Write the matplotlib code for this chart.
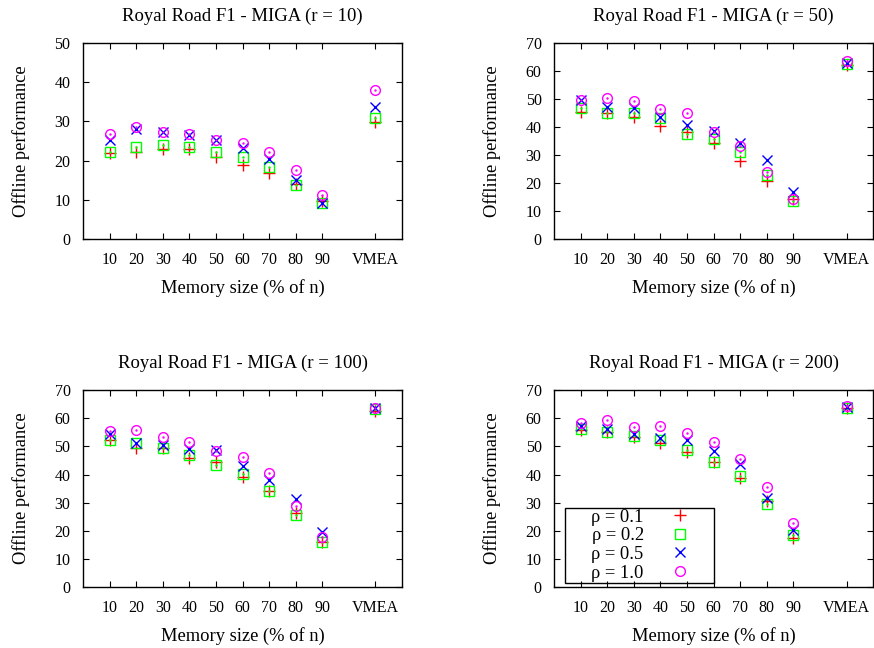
import numpy as np
import matplotlib
matplotlib.use("Agg")
import matplotlib.pyplot as plt
from matplotlib.patches import Rectangle

plt.rcParams['font.family'] = ['Liberation Serif', 'DejaVu Serif']

# Kategorien der x-Achse
kategorien = ["10", "20", "30", "40", "50", "60", "70", "80", "90", "VMEA"]
positionen = [1, 2, 3, 4, 5, 6, 7, 8, 9, 11]

rho_labels = ["ρ = 0.1", "ρ = 0.2", "ρ = 0.5", "ρ = 1.0"]

# r = 10
r10_rho01 = [22.0, 22.3, 22.9, 22.9, 21.0, 18.9, 16.9, 14.1, 9.8, 29.7]
r10_rho02 = [22.2, 23.5, 24.0, 23.5, 22.2, 20.9, 18.4, 13.8, 9.2, 30.8]
r10_rho05 = [25.3, 28.0, 27.4, 26.4, 25.3, 23.1, 20.5, 15.1, 9.3, 33.7]
r10_rho10 = [26.8, 28.5, 27.2, 26.7, 25.3, 24.4, 22.3, 17.5, 11.3, 38.0]

# r = 50
r50_rho01 = [45.2, 44.8, 43.6, 40.2, 38.3, 34.3, 28.0, 20.6, 14.3, 62.0]
r50_rho02 = [46.8, 45.0, 44.8, 43.2, 37.6, 35.8, 31.2, 23.0, 13.5, 62.6]
r50_rho05 = [49.5, 47.1, 46.8, 43.6, 40.6, 38.5, 34.3, 28.3, 16.8, 62.9]
r50_rho10 = [49.5, 50.4, 49.4, 46.5, 44.9, 38.3, 33.1, 23.8, 14.3, 63.5]

# r = 100
r100_rho01 = [52.3, 49.4, 49.4, 45.7, 44.3, 39.2, 34.2, 26.4, 16.1, 62.7]
r100_rho02 = [52.3, 51.1, 49.3, 46.9, 43.3, 40.1, 34.2, 25.6, 16.0, 63.2]
r100_rho05 = [54.4, 51.1, 50.6, 48.9, 48.7, 42.9, 38.2, 31.4, 19.4, 63.6]
r100_rho10 = [55.4, 55.8, 53.2, 51.7, 48.5, 46.1, 40.6, 28.8, 17.9, 63.7]

# r = 200
r200_rho01 = [55.8, 55.2, 53.4, 51.2, 48.0, 44.5, 38.6, 30.6, 17.4, 63.7]
r200_rho02 = [56.3, 55.2, 53.7, 52.2, 48.6, 44.5, 39.4, 29.7, 18.4, 63.8]
r200_rho05 = [57.2, 56.3, 54.3, 52.8, 52.2, 48.3, 43.9, 31.7, 20.2, 64.1]
r200_rho10 = [58.4, 59.3, 56.9, 57.2, 54.6, 51.7, 45.6, 35.6, 22.8, 64.3]

# Darstellung der vier rho-Reihen (gnuplot-Stil)
stile = [
    dict(marker="+", color="#ff0000", ms=8, mew=1.0),
    dict(marker="s", color="#00ff00", ms=7, mew=1.0, mfc="none"),
    dict(marker="x", color="#0000ff", ms=7, mew=1.0),
    dict(marker="o", color="#ff00ff", ms=7, mew=1.0, mfc="none"),
]

fig = plt.figure(figsize=(8.74, 6.48), dpi=100)

# Achsenpositionen [links, unten, breite, höhe]
panels = [
    ("Royal Road F1 - MIGA (r = 10)", [0.095, 0.631, 0.365, 0.303], 50,
     [r10_rho01, r10_rho02, r10_rho05, r10_rho10]),
    ("Royal Road F1 - MIGA (r = 50)", [0.634, 0.631, 0.365, 0.303], 70,
     [r50_rho01, r50_rho02, r50_rho05, r50_rho10]),
    ("Royal Road F1 - MIGA (r = 100)", [0.095, 0.094, 0.365, 0.304], 70,
     [r100_rho01, r100_rho02, r100_rho05, r100_rho10]),
    ("Royal Road F1 - MIGA (r = 200)", [0.634, 0.094, 0.365, 0.304], 70,
     [r200_rho01, r200_rho02, r200_rho05, r200_rho10]),
]

for i, (titel, pos, ymax, reihen) in enumerate(panels):
    ax = fig.add_axes(pos)
    for werte, stil, label in zip(reihen, stile, rho_labels):
        ax.plot(positionen, werte, linestyle="none", label=label, **stil)
        if stil["marker"] in ("s", "o"):
            # kleiner Punkt in der Mitte wie bei gnuplot
            ax.plot(positionen, werte, linestyle="none", marker=".",
                    ms=1.5, color=stil["color"])
    ax.set_xlim(0, 12)
    ax.set_ylim(0, ymax)
    ax.set_xticks(positionen)
    ax.set_xticklabels(kategorien)
    ax.set_yticks(np.arange(0, ymax + 1, 10))
    ax.tick_params(direction="in", top=True, right=True, length=4,
                   labelsize=11.5, pad=9)
    ax.set_title(titel, fontsize=13.5, pad=16)
    ax.set_xlabel("Memory size (% of n)", fontsize=13.3, labelpad=8)
    ax.set_ylabel("Offline performance", fontsize=13.3, labelpad=18)
    for s in ax.spines.values():
        s.set_linewidth(1.0)
    if i == 3:
        # Legendenrahmen wie bei gnuplot, Einträge mittig darin
        ax.add_patch(Rectangle((0.034, 0.02), 0.467, 0.38,
                               transform=ax.transAxes, fill=False,
                               edgecolor="black", linewidth=1.0, zorder=5))
        handles, labels = ax.get_legend_handles_labels()
        ax.legend(handles[:4], labels[:4], loc="center",
                  bbox_to_anchor=(0.277, 0.213), markerfirst=False,
                  fontsize=13.3, labelspacing=0.09, frameon=False,
                  handlelength=1.5, handletextpad=1.2, borderpad=0)

fig.savefig("out.png", dpi=100)
